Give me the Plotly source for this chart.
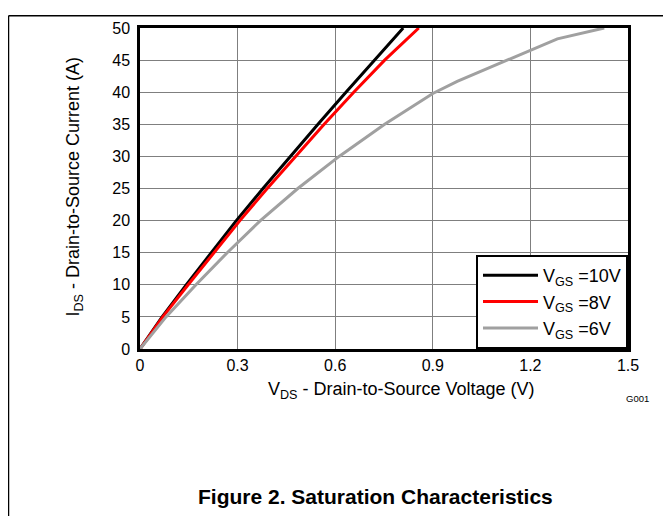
import plotly.graph_objects as go

# Saturation characteristics: drain current vs drain-source voltage
ids_10 = [0, 5, 10, 15, 20, 25, 30, 35, 40, 45, 50]
vds_10 = [0, 0.068, 0.142, 0.218, 0.296, 0.378, 0.462, 0.547, 0.633, 0.720, 0.809]

ids_8 = [0, 5, 10, 15, 20, 25, 30, 35, 40, 45, 50]
vds_8 = [0, 0.070, 0.148, 0.227, 0.307, 0.391, 0.477, 0.566, 0.657, 0.752, 0.857]

ids_6 = [0, 5, 10, 15, 20, 25, 30, 35, 39.8, 41.7, 48.3, 50]
vds_6 = [0, 0.080, 0.172, 0.268, 0.370, 0.485, 0.612, 0.752, 0.900, 0.975, 1.283, 1.427]

x_ticks = [0, 0.3, 0.6, 0.9, 1.2, 1.5]
x_tick_labels = ["0", "0.3", "0.6", "0.9", "1.2", "1.5"]
y_ticks = [0, 5, 10, 15, 20, 25, 30, 35, 40, 45, 50]

series = [
    ("V<sub>GS</sub> =10V", vds_10, ids_10, "#000000"),
    ("V<sub>GS</sub> =8V", vds_8, ids_8, "#FF0000"),
    ("V<sub>GS</sub> =6V", vds_6, ids_6, "#A0A0A0"),
]

FONT = "Liberation Sans, Arial, sans-serif"

fig = go.Figure()
for name, x, y, c in series:
    fig.add_trace(go.Scatter(x=x, y=y, mode="lines", name=name,
                             line=dict(color=c, width=3)))

# figure pixel geometry (page is offset by the 8px body margin)
W, H = 671, 516
L, T = 132, 13
pw, ph = 488, 328
R, B = W - L - pw, H - T - ph


def px(x):
    return (x - L) / pw


def py(y):
    return (T + ph - y) / ph


fig.update_layout(
    width=W, height=H,
    margin=dict(l=L, r=R, t=T, b=B),
    paper_bgcolor="white", plot_bgcolor="white",
    font=dict(family=FONT, size=16, color="black"),
    showlegend=True,
    legend=dict(x=1, y=0, xanchor="right", yanchor="bottom",
                bgcolor="white", bordercolor="black", borderwidth=2,
                font=dict(size=18), itemwidth=55, tracegroupgap=0),
    xaxis=dict(range=[0, 1.5], tickvals=x_ticks, ticktext=x_tick_labels,
               showgrid=True, gridcolor="#7f7f7f", gridwidth=1,
               showline=True, linecolor="black", linewidth=2.5, mirror=True,
               ticks="", zeroline=False, tickfont=dict(size=16)),
    yaxis=dict(range=[0, 50], tickvals=y_ticks,
               showgrid=True, gridcolor="#7f7f7f", gridwidth=1,
               showline=True, linecolor="black", linewidth=2.5, mirror=True,
               ticks="", zeroline=False, tickfont=dict(size=16),
               ticklabelstandoff=4),
    shapes=[
        dict(type="line", xref="paper", yref="paper",
             x0=px(0.5), x1=px(0.5), y0=py(0.5), y1=py(H + 20),
             line=dict(color="black", width=1.5)),
        dict(type="line", xref="paper", yref="paper",
             x0=px(0.5), x1=px(W + 20), y0=py(0.5), y1=py(0.5),
             line=dict(color="black", width=1.5)),
    ],
    annotations=[
        dict(text="V<sub>DS</sub> - Drain-to-Source Voltage (V)",
             xref="paper", yref="paper", x=px(393), y=py(383),
             xanchor="center", yanchor="middle", showarrow=False,
             font=dict(size=18, family=FONT)),
        dict(text="I<sub>DS</sub> - Drain-to-Source Current (A)",
             xref="paper", yref="paper", x=px(67), y=py(175),
             xanchor="center", yanchor="middle", showarrow=False,
             textangle=-90, font=dict(size=18, family=FONT)),
        dict(text="<b>Figure 2. Saturation Characteristics</b>",
             xref="paper", yref="paper", x=px(367), y=py(492),
             xanchor="center", yanchor="middle", showarrow=False,
             font=dict(size=21, family=FONT)),
        dict(text="G001", xref="paper", yref="paper", x=px(629), y=py(392),
             xanchor="center", yanchor="middle", showarrow=False,
             font=dict(size=9.5, family=FONT)),
    ],
)

fig.write_html("out.html")
